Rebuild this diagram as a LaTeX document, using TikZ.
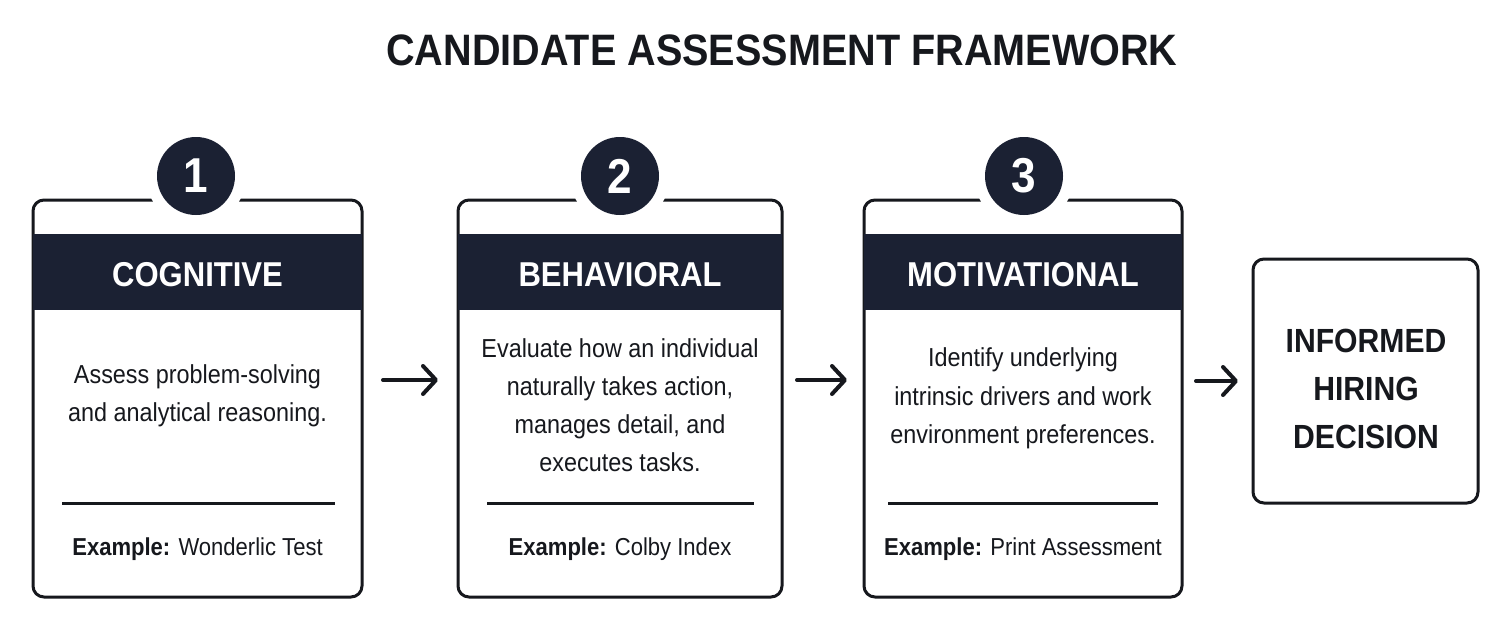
\documentclass[tikz,border=0pt]{standalone}
\usepackage{fontspec}
\setmainfont{Liberation Sans}
\newfontfamily\cf[FakeStretch=0.9]{Liberation Sans}
\usetikzlibrary{arrows.meta,calc}
\definecolor{navy}{HTML}{1B2133}
\definecolor{ink}{HTML}{16181D}
\begin{document}
\begin{tikzpicture}[x=1pt,y=-1pt,
  card/.style={draw=ink, line width=3pt, fill=white, rounded corners=11pt, inner sep=0pt, outer sep=0pt},
  band/.style={fill=navy},
  numc/.style={circle, fill=navy, minimum size=78pt, inner sep=0pt, text=white,
    font=\cf\bfseries\fontsize{49}{49}\selectfont, preaction={draw=white, line width=22pt}},
  head/.style={text=white, font=\cf\bfseries\fontsize{34.5}{40}\selectfont, anchor=base, inner sep=0pt},
  body/.style={text=ink, font=\cf\fontsize{26}{38.3}\selectfont, align=center, anchor=north, inner sep=0pt},
  ex/.style={text=ink, font=\cf\fontsize{24.5}{30}\selectfont, anchor=base, inner sep=0pt},
  sep/.style={draw=ink, line width=3pt},
  arr/.style={draw=ink, line width=4pt, line cap=round, -{Straight Barb[length=13pt, width=28pt, round]}},
]
\useasboundingbox (0,0) rectangle (1510,629);
\fill[white] (0,0) rectangle (1510,629);

\node[text=ink, font=\cf\bfseries\fontsize{44}{48}\selectfont, anchor=base, inner sep=0pt] (title) at (782,65) {CANDIDATE ASSESSMENT FRAMEWORK};

% cards
\node[card, minimum width=329pt, minimum height=397pt] (b1) at (197.5,398.5) {};
\node[card, minimum width=324pt, minimum height=397pt] (b2) at (620,398.5) {};
\node[card, minimum width=318pt, minimum height=397pt] (b3) at (1023,398.5) {};
\node[card, minimum width=225pt, minimum height=244pt] (b4) at (1365.5,381) {};

% header bands
\fill[band] (b1.west |- 0,234) rectangle (b1.east |- 0,310);
\fill[band] (b2.west |- 0,234) rectangle (b2.east |- 0,310);
\fill[band] (b3.west |- 0,234) rectangle (b3.east |- 0,310);

% number circles
\node[numc] (n1) at (196,176) {1};
\node[numc] (n2) at (620,176) {2};
\node[numc] (n3) at (1024,176) {3};

% headers
\node[head] (h1) at (197.5,286.5) {COGNITIVE};
\node[head] (h2) at (620,286.5) {BEHAVIORAL};
\node[head] (h3) at (1023,286.5) {MOTIVATIONAL};

% body texts
\node[body] (t1) at (197.5,364.3) {Assess problem-solving\\and analytical reasoning.};
\node[body] (t2) at (620,338) {Evaluate how an individual\\naturally takes action,\\manages detail, and\\executes tasks.};
\node[body] (t3) at (1023,347.8) {Identify underlying\\intrinsic drivers and work\\environment preferences.};

% separators
\draw[sep] (62,503) -- (335,503);
\draw[sep] (487,503) -- (754,503);
\draw[sep] (888,503) -- (1158,503);

% examples
\node[ex] (e1) at (197.5,555) {\textbf{Example:} Wonderlic Test};
\node[ex] (e2) at (620,555) {\textbf{Example:} Colby Index};
\node[ex] (e3) at (1023,555) {\textbf{Example:} Print Assessment};

% final box text
\node[text=ink, font=\cf\bfseries\fontsize{33.5}{48}\selectfont, align=center, inner sep=0pt] (dec) at (1366,389) {INFORMED\\HIRING\\DECISION};

% arrows
\draw[arr] ($(b1.east)+(21,-18.5)$) -- ($(b2.west)+(-20,-18.5)$);
\draw[arr] ($(b2.east)+(15,-18.5)$) -- ($(b3.west)+(-17,-18.5)$);
\draw[arr] ($(b3.east)+(14,-17.5)$) -- ($(b4.west)+(-15,0)$);
\end{tikzpicture}
\end{document}
